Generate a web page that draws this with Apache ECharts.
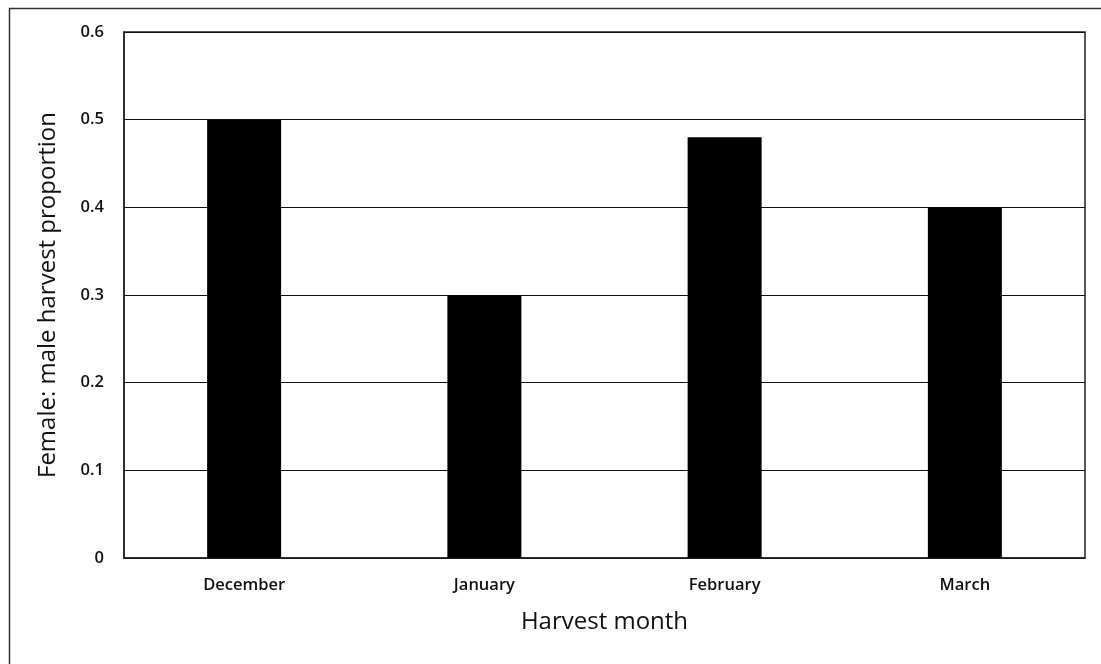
<!DOCTYPE html>
<html><head><meta charset="utf-8">
<script src="https://cdn.jsdelivr.net/npm/echarts@6/dist/echarts.min.js"></script>
<style>html,body{margin:0;padding:0;background:#fff}#c{width:1101px;height:664px}</style>
</head><body><div id="c"></div>
<script>
const categories = ['December', 'January', 'February', 'March'];
const proportions = [0.5, 0.3, 0.48, 0.4];
const yTicks = [0, 0.1, 0.2, 0.3, 0.4, 0.5, 0.6];
const yTitle = 'Female: male harvest proportion';
const xTitle = 'Harvest month';

const chart = echarts.init(document.getElementById('c'), null, {renderer: 'canvas'});
const font = 'Open Sans';
chart.setOption({
  animation: false,
  backgroundColor: '#fff',
  graphic: [{
    type: 'rect', left: 7, top: 6, shape: {width: 1110, height: 700},
    style: {fill: 'none', stroke: '#333', lineWidth: 1.5}, silent: true
  }],
  grid: {left: 124, top: 32, right: 16, bottom: 106, show: true, borderColor: '#222', borderWidth: 1.5, backgroundColor: 'transparent'},
  xAxis: {
    type: 'category', data: categories,
    name: xTitle, nameLocation: 'middle', nameGap: 52,
    nameTextStyle: {fontFamily: font, fontSize: 24, color: '#111'},
    axisLine: {show: true, lineStyle: {color: '#222', width: 1.5}},
    axisTick: {show: false},
    axisLabel: {fontFamily: font, fontSize: 16.5, fontWeight: 600, color: '#111', margin: 19}
  },
  yAxis: {
    type: 'value', min: 0, max: yTicks[yTicks.length - 1], interval: 0.1,
    name: yTitle, nameLocation: 'middle', nameGap: 64,
    nameTextStyle: {fontFamily: font, fontSize: 24, color: '#111'},
    axisLine: {show: true, lineStyle: {color: '#222', width: 1.5}},
    axisTick: {show: false},
    splitLine: {show: true, lineStyle: {color: '#111', width: 1.2}},
    axisLabel: {fontFamily: font, fontSize: 16.5, fontWeight: 600, color: '#111', margin: 20,
      formatter: v => (Math.round(v * 10) / 10).toString()}
  },
  series: [{
    type: 'bar', data: proportions, barWidth: 74,
    itemStyle: {color: '#000'}
  }]
});
</script></body></html>
